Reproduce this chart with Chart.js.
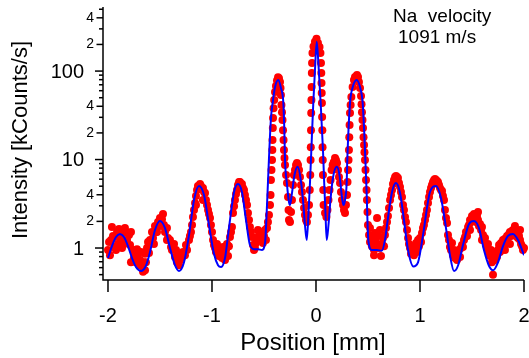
<!DOCTYPE html>
<html>
<head>
<meta charset="utf-8">
<script src="https://cdn.jsdelivr.net/npm/chart.js@4.4.0/dist/chart.umd.min.js"></script>
<style>
  html, body { margin: 0; padding: 0; background: #fff; }
</style>
</head>
<body>
<canvas id="diffChart" width="529" height="358"></canvas>
<script>
// position [mm] / intensity [kCounts/s]

// fitted curve (blue line)
var theoryPoints = [
  [-2.000,0.77],[-1.962,1.05],[-1.923,1.33],[-1.885,1.44],[-1.846,1.33],[-1.808,1.05],[-1.769,0.77],
  [-1.731,0.61],[-1.683,0.55],[-1.635,0.63],[-1.596,0.90],[-1.548,1.60],[-1.500,2.02],[-1.452,1.68],
  [-1.404,1.00],[-1.356,0.64],[-1.317,0.55],[-1.269,0.69],[-1.221,1.40],[-1.173,3.49],[-1.125,5.02],
  [-1.077,3.97],[-1.029,1.82],[-0.981,0.86],[-0.942,0.64],[-0.913,0.61],[-0.875,0.77],[-0.837,1.68],
  [-0.788,4.30],[-0.750,5.29],[-0.712,4.30],[-0.673,2.07],[-0.635,1.08],[-0.596,0.97],[-0.558,0.97],
  [-0.519,0.95],[-0.490,1.14],[-0.471,3.06],[-0.452,10.4],[-0.433,29.4],[-0.417,43.5],[-0.394,65.9],
  [-0.363,79.1],[-0.337,64.4],[-0.314,43.5],[-0.305,22.7],[-0.298,9.87],[-0.280,5.42],[-0.263,3.49],
  [-0.250,3.06],[-0.231,4.18],[-0.207,6.68],[-0.176,8.28],[-0.149,6.18],[-0.125,3.49],[-0.106,1.82],
  [-0.089,1.23],[-0.072,2.49],[-0.058,5.42],[-0.046,11.8],[-0.026,43.5],[-0.010,102],[0.007,214],
  [0.024,117],[0.045,43.5],[0.067,12.8],[0.079,5.42],[0.091,2.49],[0.103,1.23],[0.120,1.82],
  [0.139,3.49],[0.163,6.18],[0.199,8.28],[0.226,6.68],[0.245,4.18],[0.263,3.06],[0.279,3.49],
  [0.295,5.42],[0.301,9.87],[0.327,43.5],[0.351,64.4],[0.391,79.1],[0.423,65.9],[0.449,43.5],
  [0.462,22.7],[0.471,12.8],[0.486,4.52],[0.503,1.23],[0.536,0.95],[0.584,0.95],[0.632,0.93],
  [0.663,1.23],[0.692,2.18],[0.731,4.30],[0.769,5.42],[0.808,4.18],[0.846,2.07],[0.885,0.95],
  [0.936,0.62],[0.981,0.69],[1.029,1.40],[1.096,4.30],[1.154,5.02],[1.202,3.67],[1.250,1.68],
  [1.288,0.83],[1.327,0.55],[1.365,0.63],[1.413,1.08],[1.471,1.87],[1.519,2.02],[1.567,1.68],
  [1.615,0.95],[1.663,0.63],[1.702,0.56],[1.750,0.69],[1.798,1.05],[1.846,1.37],[1.894,1.44],
  [1.942,1.23],[2.000,0.83]
];

// measured counts (red dots)
var measuredPoints = [
  [-2.000,0.95],[-1.990,1.17],[-1.981,0.83],[-1.971,1.23],[-1.962,1.73],[-1.952,1.37],[-1.942,1.03],
  [-1.933,1.33],[-1.923,0.95],[-1.913,1.52],[-1.904,1.11],[-1.894,1.64],[-1.885,1.48],[-1.875,1.23],
  [-1.865,1.00],[-1.856,1.48],[-1.846,1.11],[-1.837,1.68],[-1.827,1.52],[-1.817,1.23],[-1.798,1.40],
  [-1.788,1.08],[-1.779,1.52],[-1.779,0.69],[-1.760,0.95],[-1.750,0.77],[-1.740,0.86],[-1.731,0.69],
  [-1.721,0.97],[-1.712,0.77],[-1.702,0.64],[-1.692,0.73],[-1.683,0.90],[-1.673,0.63],[-1.663,0.54],
  [-1.654,0.69],[-1.644,0.86],[-1.644,0.56],[-1.635,0.69],[-1.625,1.00],[-1.615,1.17],[-1.606,0.88],
  [-1.596,1.23],[-1.577,1.52],[-1.567,1.30],[-1.558,1.11],[-1.548,1.77],[-1.538,1.52],[-1.529,1.52],
  [-1.519,1.97],[-1.500,2.18],[-1.490,1.77],[-1.481,2.12],[-1.471,2.42],[-1.462,1.82],[-1.452,1.52],
  [-1.433,1.68],[-1.433,1.23],[-1.423,1.30],[-1.404,1.23],[-1.394,1.03],[-1.385,0.95],[-1.365,1.11],
  [-1.356,0.79],[-1.346,0.95],[-1.337,0.69],[-1.327,0.83],[-1.317,0.64],[-1.308,0.73],[-1.288,0.79],
  [-1.279,0.90],[-1.260,0.83],[-1.250,1.08],[-1.240,0.95],[-1.221,1.23],[-1.212,1.37],[-1.202,1.52],
  [-1.192,1.82],[-1.183,2.24],[-1.173,2.69],[-1.163,3.22],[-1.154,3.87],[-1.154,3.06],[-1.144,4.52],
  [-1.135,5.02],[-1.115,5.28],[-1.106,5.02],[-1.087,4.76],[-1.087,3.49],[-1.077,4.30],[-1.067,4.18],
  [-1.058,3.49],[-1.048,3.06],[-1.038,2.69],[-1.029,2.42],[-1.019,2.18],[-1.010,1.82],[-1.000,1.52],
  [-0.990,1.23],[-0.981,1.08],[-0.971,1.00],[-0.962,0.90],[-0.952,1.11],[-0.942,0.95],[-0.933,0.81],
  [-0.923,1.00],[-0.913,0.88],[-0.904,0.77],[-0.894,1.03],[-0.885,0.86],[-0.875,0.73],[-0.865,0.95],
  [-0.856,1.11],[-0.846,0.81],[-0.837,1.05],[-0.827,1.33],[-0.817,1.52],[-0.808,1.73],[-0.798,2.49],
  [-0.788,2.97],[-0.779,3.49],[-0.769,4.07],[-0.760,4.52],[-0.750,5.15],[-0.740,5.57],[-0.731,5.57],
  [-0.712,5.28],[-0.702,4.76],[-0.692,4.52],[-0.683,3.97],[-0.673,3.49],[-0.663,3.06],[-0.654,2.49],
  [-0.644,2.07],[-0.635,1.73],[-0.625,1.52],[-0.615,1.33],[-0.606,1.08],[-0.596,0.95],[-0.587,1.00],
  [-0.577,1.14],[-0.567,1.30],[-0.558,1.60],[-0.548,1.40],[-0.538,1.52],[-0.529,1.23],[-0.519,1.33],
  [-0.510,1.14],[-0.500,1.37],[-0.490,1.60],[-0.481,1.23],[-0.471,1.68],[-0.462,1.97],[-0.452,2.36],
  [-0.442,3.06],[-0.437,3.97],[-0.433,5.87],[-0.428,7.61],[-0.423,9.87],[-0.420,12.8],[-0.418,16.6],
  [-0.415,22.7],[-0.413,29.4],[-0.408,38.1],[-0.402,47.0],[-0.394,57.9],[-0.385,67.7],[-0.375,78.0],
  [-0.365,85.0],[-0.356,83.0],[-0.346,75.1],[-0.341,64.4],[-0.337,53.5],[-0.332,41.3],[-0.327,34.3],
  [-0.322,27.9],[-0.317,21.5],[-0.312,16.6],[-0.308,12.8],[-0.303,10.4],[-0.298,8.67],[-0.288,6.68],
  [-0.279,5.42],[-0.269,3.77],[-0.264,2.69],[-0.260,2.07],[-0.250,1.97],[-0.240,2.55],[-0.231,3.49],
  [-0.221,5.15],[-0.212,6.68],[-0.202,7.61],[-0.192,8.67],[-0.183,9.12],[-0.173,8.67],[-0.163,7.61],
  [-0.154,6.34],[-0.144,5.15],[-0.135,4.30],[-0.125,3.49],[-0.115,2.83],[-0.106,2.36],[-0.096,2.07],
  [-0.087,1.97],[-0.077,2.36],[-0.067,3.06],[-0.060,4.52],[-0.055,6.68],[-0.052,9.87],[-0.050,13.8],
  [-0.048,21.5],[-0.046,33.5],[-0.044,47.0],[-0.042,65.9],[-0.040,94.9],[-0.038,123],[-0.034,160],
  [-0.024,190],[-0.010,214],[0.005,232],[0.019,207],[0.034,187],[0.043,160],[0.048,123],
  [0.051,94.9],[0.053,73.2],[0.055,56.4],[0.057,43.5],[0.059,30.2],[0.061,21.5],[0.063,13.8],
  [0.065,9.87],[0.067,6.68],[0.070,4.52],[0.073,3.06],[0.087,2.49],[0.100,2.24],[0.110,2.69],
  [0.120,3.49],[0.130,4.52],[0.140,5.87],[0.150,7.61],[0.160,8.67],[0.170,9.35],[0.183,10.4],
  [0.192,9.87],[0.202,9.12],[0.212,7.61],[0.221,6.34],[0.231,5.42],[0.240,4.30],[0.250,3.49],
  [0.260,3.06],[0.269,2.69],[0.279,2.49],[0.288,3.06],[0.298,3.97],[0.303,5.57],[0.308,7.61],
  [0.313,9.87],[0.317,12.8],[0.320,17.9],[0.323,24.5],[0.327,33.5],[0.333,41.3],[0.340,50.8],
  [0.352,65.9],[0.365,79.1],[0.375,85.5],[0.394,90.1],[0.404,85.5],[0.413,75.1],[0.423,64.4],
  [0.433,52.2],[0.438,42.3],[0.442,34.3],[0.447,27.9],[0.452,22.7],[0.457,17.9],[0.462,14.6],
  [0.466,12.1],[0.471,9.87],[0.476,7.61],[0.481,5.87],[0.486,4.52],[0.490,3.49],[0.495,2.55],
  [0.500,1.82],[0.510,1.40],[0.519,1.17],[0.519,1.68],[0.529,1.37],[0.538,1.05],[0.548,1.23],
  [0.558,0.95],[0.558,0.83],[0.567,1.48],[0.577,1.17],[0.587,2.18],[0.596,1.37],[0.606,1.00],
  [0.615,1.60],[0.625,0.81],[0.635,1.11],[0.644,1.30],[0.654,1.05],[0.663,1.40],[0.673,1.68],
  [0.683,1.97],[0.692,2.30],[0.702,2.83],[0.712,3.49],[0.721,3.97],[0.731,4.52],[0.740,5.28],
  [0.750,5.87],[0.760,6.34],[0.769,6.51],[0.779,6.34],[0.788,6.18],[0.798,5.42],[0.808,4.89],
  [0.817,4.30],[0.827,3.77],[0.837,3.06],[0.846,2.69],[0.856,2.24],[0.865,1.97],[0.875,1.60],
  [0.885,1.30],[0.894,1.11],[0.904,1.00],[0.913,0.86],[0.923,0.95],[0.933,1.05],[0.942,0.83],
  [0.952,0.95],[0.962,1.14],[0.971,0.90],[0.981,1.23],[0.990,1.05],[1.000,1.30],[1.010,1.17],
  [1.019,1.48],[1.029,1.68],[1.038,1.82],[1.048,2.07],[1.058,2.36],[1.067,2.69],[1.077,3.22],
  [1.087,3.77],[1.096,4.30],[1.106,4.76],[1.115,5.15],[1.125,5.57],[1.135,5.87],[1.144,6.02],
  [1.154,5.87],[1.163,5.72],[1.173,5.57],[1.183,5.15],[1.192,4.76],[1.202,4.52],[1.212,4.41],
  [1.221,3.87],[1.231,3.49],[1.240,2.69],[1.250,2.18],[1.260,1.92],[1.269,1.40],[1.279,1.23],
  [1.288,1.03],[1.298,0.95],[1.308,1.14],[1.317,0.83],[1.327,0.95],[1.337,0.77],[1.346,0.90],
  [1.356,0.73],[1.365,0.86],[1.375,0.95],[1.385,0.79],[1.394,1.00],[1.404,1.08],[1.413,1.03],
  [1.423,1.23],[1.433,1.33],[1.442,1.52],[1.452,1.37],[1.462,1.73],[1.471,1.82],[1.481,2.07],
  [1.481,1.60],[1.490,1.97],[1.500,2.30],[1.510,2.24],[1.519,2.42],[1.529,2.18],[1.538,1.97],
  [1.548,2.30],[1.558,2.07],[1.558,2.55],[1.567,1.77],[1.577,1.87],[1.587,1.60],[1.596,1.73],
  [1.596,1.23],[1.606,1.40],[1.615,1.23],[1.625,1.30],[1.635,1.08],[1.644,1.00],[1.654,1.11],
  [1.663,0.90],[1.673,0.81],[1.683,0.95],[1.692,0.69],[1.702,0.50],[1.712,0.81],[1.721,0.73],
  [1.731,0.90],[1.740,0.79],[1.750,0.95],[1.760,1.08],[1.769,0.90],[1.779,1.14],[1.788,1.05],
  [1.798,1.23],[1.808,1.11],[1.817,1.27],[1.817,0.95],[1.827,1.17],[1.837,1.37],[1.846,1.30],
  [1.856,1.44],[1.865,1.52],[1.865,1.11],[1.875,1.37],[1.885,1.56],[1.894,1.60],[1.904,1.44],
  [1.913,1.52],[1.913,1.77],[1.923,1.37],[1.933,1.48],[1.942,1.30],[1.952,1.37],[1.962,1.23],
  [1.962,1.60],[1.971,1.11],[1.981,1.05],[1.990,0.95],[2.000,1.00]
];

// axis ticks
var xTicks = [-2, -1, 0, 1, 2];
var yDecades = [1, 10, 100];
var yLabeled = [2, 4, 20, 40, 200, 400];
var yMinor = [0.5, 0.6, 0.7, 0.8, 0.9, 3, 5, 6, 7, 8, 9, 30, 50, 60, 70, 80, 90, 300, 500];

var FONT = "'Liberation Sans', Arial, Helvetica, sans-serif";

// Igor-style axes: offset spine, outward ticks, mixed label sizes
var igorAxes = {
  id: 'igorAxes',
  afterDraw: function(chart) {
    var ctx = chart.ctx, a = chart.chartArea;
    var xs = chart.scales.x, ys = chart.scales.y;
    ctx.save();
    ctx.strokeStyle = '#000';
    ctx.fillStyle = '#000';
    ctx.lineWidth = 1.5;
    ctx.beginPath();
    ctx.moveTo(a.left, a.top);
    ctx.lineTo(a.left, a.bottom);
    ctx.lineTo(a.right, a.bottom);
    ctx.stroke();

    function yTick(v, len) {
      var p = ys.getPixelForValue(v);
      ctx.beginPath();
      ctx.moveTo(a.left - len, p);
      ctx.lineTo(a.left, p);
      ctx.stroke();
      return p;
    }
    ctx.textAlign = 'right';
    ctx.textBaseline = 'middle';
    yMinor.forEach(function(v) { yTick(v, 4); });
    ctx.font = '14px ' + FONT;
    yLabeled.forEach(function(v) {
      var p = yTick(v, 6.5);
      ctx.fillText(String(v).charAt(0), 94, p);
    });
    ctx.font = '20px ' + FONT;
    yDecades.forEach(function(v) {
      var p = yTick(v, 8);
      ctx.fillText(String(v), 84, p + 1);
    });

    ctx.textAlign = 'center';
    ctx.textBaseline = 'alphabetic';
    xTicks.forEach(function(v) {
      var p = xs.getPixelForValue(v);
      ctx.beginPath();
      ctx.moveTo(p, a.bottom);
      ctx.lineTo(p, a.bottom + 12);
      ctx.stroke();
      ctx.fillText(String(v), p, 321.5);
    });

    // axis titles
    ctx.font = '24px ' + FONT;
    ctx.fillText('Position [mm]', 313, 350);
    ctx.save();
    ctx.translate(27, 140);
    ctx.rotate(-Math.PI / 2);
    ctx.font = '22px ' + FONT;
    ctx.fillText('Intensity [kCounts/s]', 0, 0);
    ctx.restore();

    // annotation
    ctx.textAlign = 'left';
    ctx.font = '19px ' + FONT;
    ctx.fillText('Na  velocity', 393, 22);
    ctx.fillText('1091 m/s', 398, 43);
    ctx.restore();
  }
};

new Chart(document.getElementById('diffChart'), {
  type: 'scatter',
  data: {
    datasets: [{
      label: 'Theory',
      data: theoryPoints.map(function(p) { return {x: p[0], y: p[1]}; }),
      showLine: true,
      borderColor: '#0000ff',
      borderWidth: 2,
      pointRadius: 0,
      cubicInterpolationMode: 'monotone',
      order: 1
    }, {
      label: 'Data',
      data: measuredPoints.map(function(p) { return {x: p[0], y: p[1]}; }),
      backgroundColor: '#ff0000',
      borderWidth: 0,
      pointRadius: 4,
      clip: 6,
      order: 2
    }]
  },
  options: {
    responsive: false,
    animation: false,
    layout: { padding: { left: 103, right: 5, top: 7, bottom: 78 } },
    plugins: {
      legend: { display: false },
      tooltip: { enabled: false }
    },
    scales: {
      x: { type: 'linear', display: false, min: -2.048, max: 2.0 },
      y: { type: 'logarithmic', display: false, min: 0.435, max: 530 }
    }
  },
  plugins: [igorAxes]
});
</script>
</body>
</html>
